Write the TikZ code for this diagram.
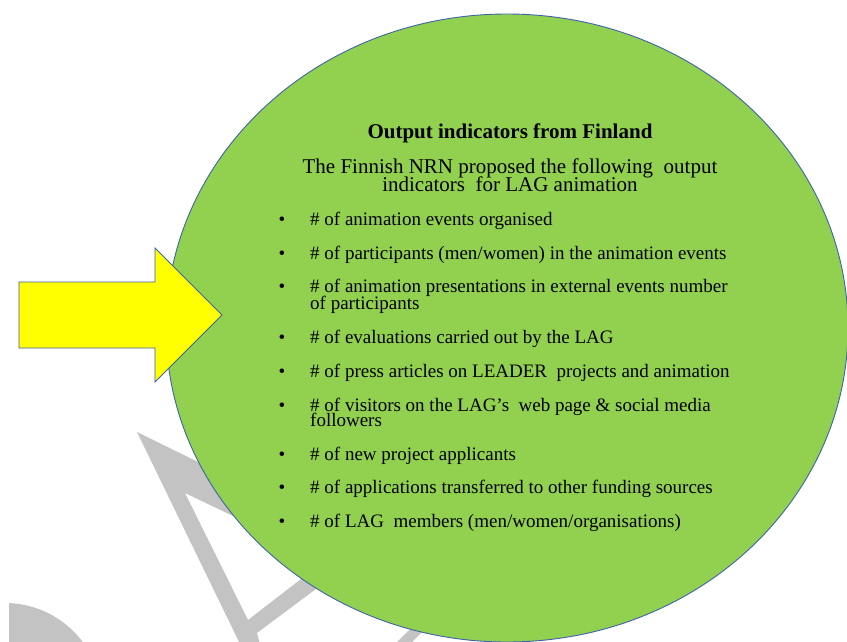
\documentclass[tikz,border=0pt]{standalone}
\usepackage{fontspec}
\setmainfont{Liberation Serif}
\definecolor{ellgreen}{HTML}{92D050}
\definecolor{edgeblue}{HTML}{3F63A8}
\definecolor{arrowyellow}{HTML}{FFFF00}
\definecolor{wmgrey}{HTML}{C3C3C3}
\begin{document}
\begin{tikzpicture}[x=1pt,y=-1pt,
  txt/.style={inner sep=0pt, text=black},
  item/.style={txt, anchor=base west, font=\fontsize{19}{17}\selectfont},
  bul/.style={txt, anchor=base, font=\fontsize{19}{17}\selectfont},
  head/.style={txt, anchor=base, font=\fontsize{21}{18}\selectfont\bfseries},
  sub/.style={txt, anchor=base, font=\fontsize{21}{18}\selectfont},
  wm/.style={fill=wmgrey, draw=none},
  outline/.style={draw=edgeblue, line width=0.9pt, line join=miter}]
\useasboundingbox (0,0) rectangle (847,641);
\clip (0,0) rectangle (847,641);
\fill[white] (0,0) rectangle (847,641);
% watermark remnants
\path[wm] (137,432) -- (300,512) -- (300,548) -- (185,493) -- (248,620)
  -- (345,545) -- (356,559) -- (257,633) -- (261,648) -- (242,648) -- cycle;
\begin{scope}
  \clip (9,560) rectangle (200,650);
  \path[wm] (5,700) circle (97);
\end{scope}
\path[wm] (394,645) -- (413,626) -- (428,626) -- (409,645) -- cycle;
% ellipse
\path[fill=ellgreen, outline] (507,328) ellipse [x radius=341, y radius=314];
% arrow
\path[fill=arrowyellow, outline] (19,282) -- (155,282) -- (155,248) -- (222,315)
  -- (155,382) -- (155,348) -- (19,348) -- cycle;
% texts
\node[head] (title) at (510,138) {Output indicators from Finland};
\node[sub] (sub1) at (510,173) {The Finnish NRN proposed the following\ \ output};
\node[sub] (sub2) at (510,191) {indicators\ \ for LAG animation};
\foreach \y/\n in {225/1,259/2,292/3,343/4,377/5,411/6,460/7,493/8,527/9}
  \node[bul] (b\n) at (282,\y) {\textbullet};
\node[item] (i1) at (310,225) {\# of animation events organised};
\node[item] (i2) at (310,259) {\# of participants (men/women) in the animation events};
\node[item] (i3) at (310,292) {\# of animation presentations in external events number};
\node[item] (i3b) at (310,309) {of participants};
\node[item] (i4) at (310,343) {\# of evaluations carried out by the LAG};
\node[item] (i5) at (310,377) {\# of press articles on LEADER\ \ projects and animation};
\node[item] (i6) at (310,411) {\# of visitors on the LAG’s\ \ web page \& social media};
\node[item] (i6b) at (310,426) {followers};
\node[item] (i7) at (310,460) {\# of new project applicants};
\node[item] (i8) at (310,493) {\# of applications transferred to other funding sources};
\node[item] (i9) at (310,527) {\# of LAG\ \ members (men/women/organisations)};
\end{tikzpicture}
\end{document}
